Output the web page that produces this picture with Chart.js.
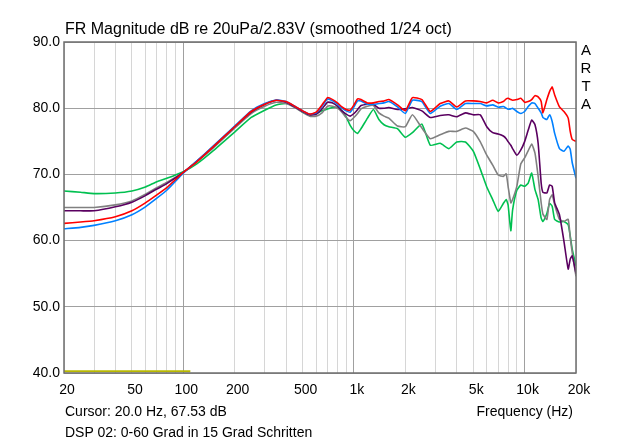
<!DOCTYPE html>
<html>
<head>
<meta charset="utf-8">
<script src="https://cdn.jsdelivr.net/npm/chart.js@4.4.1/dist/chart.umd.min.js"></script>
<style>
  body { margin: 0; background: #fff; }
  #wrap { position: relative; width: 640px; height: 444px; font-family: "Liberation Sans", Arial, sans-serif; color: #000; }
  #wrap canvas { position: absolute; left: 0; top: 0; }
  .lbl { position: absolute; white-space: nowrap; font-size: 14px; line-height: 16px; }
  #title { left: 65px; top: 20px; font-size: 16px; line-height: 18px; }
  #arta { left: 579px; top: 41px; font-size: 15px; line-height: 18px; width: 14px; text-align: center; }
  #cursor { left: 65px; top: 403px; }
  #freq { right: 67px; top: 403px; }
  #dsp { left: 65px; top: 424px; }
</style>
</head>
<body>
<div id="wrap">
  <canvas id="frChart" width="640" height="444"></canvas>
  <div class="lbl" id="title">FR Magnitude dB re 20uPa/2.83V (smoothed 1/24 oct)</div>
  <div class="lbl" id="arta">A<br>R<br>T<br>A</div>
  <div class="lbl" id="cursor">Cursor: 20.0 Hz, 67.53 dB</div>
  <div class="lbl" id="freq">Frequency (Hz)</div>
  <div class="lbl" id="dsp">DSP 02: 0-60 Grad in 15 Grad Schritten</div>
</div>
<script>
// Frequenzpunkte (Hz), gemeinsam für alle Kurven
const freqHz = [20, 25, 30, 40, 50, 60, 70, 80, 100, 120,
    150, 200, 250, 300, 350, 400, 450, 500, 550, 600,
    650, 700, 750, 800, 850, 900, 950, 1000, 1050, 1100,
    1200, 1300, 1400, 1500, 1600, 1800, 2000, 2200, 2500, 2800,
    3200, 3600, 4000, 4500, 5000, 5500, 6000, 6500, 7000, 7500,
    7800, 8000, 8300, 8500, 9000, 9500, 10000, 10500, 11000, 11500,
    12000, 12500, 12800, 13500, 14000, 14500, 15000, 16000, 17000, 18000,
    18500, 19000, 20000];

// Pegel in dB, je Winkel
const deg0 = [62.6, 62.8, 63.0, 63.6, 64.5, 65.7, 66.9, 68.0, 70.3, 71.9,
    74.2, 77.2, 79.5, 80.6, 81.2, 81.0, 80.3, 79.6, 79.1, 79.4,
    80.5, 81.6, 81.3, 80.8, 80.2, 79.8, 79.7, 80.5, 81.4, 81.3,
    80.8, 80.8, 81.0, 81.1, 81.3, 80.5, 79.6, 81.6, 81.3, 79.5,
    80.7, 81.1, 80.2, 81.1, 81.1, 81.0, 80.8, 81.2, 80.8, 81.0,
    81.4, 81.5, 81.3, 81.2, 81.3, 81.5, 80.9, 81.0, 81.3, 81.9,
    81.7, 81.0, 79.3, 81.3, 82.5, 83.2, 82.0, 80.2, 79.5, 78.5,
    76.5, 75.3, 75.0];

const deg15 = [61.8, 62.0, 62.3, 63.0, 63.9, 65.1, 66.4, 67.6, 70.2, 72.0,
    74.3, 77.3, 79.6, 80.7, 81.25, 81.0, 80.3, 79.6, 79.1, 79.3,
    80.3, 81.4, 81.1, 80.6, 80.0, 79.6, 79.4, 80.2, 81.1, 81.1,
    80.6, 80.6, 80.7, 80.8, 81.0, 80.2, 79.2, 81.2, 81.0, 79.2,
    80.3, 80.7, 79.8, 80.7, 80.7, 80.7, 80.35, 80.5, 80.15, 80.25,
    80.0, 79.85, 79.9, 80.0, 79.5, 79.2, 79.5, 80.25, 80.8, 80.7,
    80.0, 79.3, 78.6, 78.3, 79.0, 78.0, 76.2, 73.9, 73.5, 74.3,
    73.8, 71.8, 69.4];

const deg30 = [64.5, 64.5, 64.5, 65.1, 65.8, 66.8, 67.8, 68.6, 70.3, 72.0,
    74.2, 77.2, 79.4, 80.6, 81.2, 80.9, 80.2, 79.5, 79.0, 79.1,
    79.9, 80.9, 80.8, 80.3, 79.6, 79.1, 78.8, 79.2, 79.8, 80.4,
    80.6, 80.6, 80.0, 80.0, 80.1, 79.8, 79.9, 80.1, 79.6, 78.6,
    78.9, 79.0, 78.7, 79.3, 79.0, 79.0, 77.2, 76.3, 76.1, 75.8,
    75.4, 74.95, 74.4, 73.9, 72.9, 73.7, 74.95, 76.7, 78.2, 77.5,
    74.7, 68.7, 67.3, 67.2, 68.4, 68.2, 65.7, 63.9, 59.9, 55.7,
    57.2, 57.7, 55.0];

const deg45 = [65.0, 65.0, 65.0, 65.4, 66.0, 67.0, 68.0, 68.8, 70.3, 71.9,
    74.0, 77.0, 79.2, 80.3, 80.9, 80.7, 80.1, 79.4, 78.8, 78.8,
    79.3, 80.3, 80.3, 80.0, 79.4, 78.6, 78.1, 78.6, 79.2, 79.9,
    80.3, 80.4, 79.3, 78.8, 78.5, 77.3, 77.2, 79.0, 77.0, 75.4,
    76.0, 76.5, 76.5, 77.0, 76.5, 74.9, 72.9, 71.4, 69.9, 69.7,
    70.1, 68.2, 65.7, 66.2, 68.2, 71.6, 72.5, 73.6, 74.6, 73.2,
    69.7, 65.7, 64.0, 63.2, 66.2, 66.9, 65.4, 63.2, 62.9, 63.2,
    60.5, 58.2, 54.6];

const deg60 = [67.5, 67.3, 67.1, 67.2, 67.5, 68.1, 68.9, 69.4, 70.4, 71.6,
    73.6, 76.4, 78.6, 79.7, 80.5, 80.7, 80.2, 79.4, 79.0, 79.2,
    79.6, 79.9, 80.1, 80.1, 79.6, 78.7, 77.4, 76.6, 76.2, 76.9,
    78.5, 79.8, 78.3, 77.5, 77.2, 76.9, 75.6, 76.3, 77.6, 74.4,
    74.7, 73.9, 74.9, 74.9, 73.5, 70.8, 68.1, 66.2, 64.4, 65.6,
    66.2, 65.4, 61.5, 64.6, 67.6, 68.4, 68.2, 68.7, 70.2, 67.7,
    66.2, 63.4, 62.9, 64.1, 65.6, 65.2, 63.2, 62.8, 62.9, 62.4,
    60.7, 58.7, 56.2];

// gelbe Cursor-/Markerlinie unten
const markerHz = [20, 110];
const markerDb = [40.25, 40.25];

// Achsen
const xGridHz = [20, 30, 40, 50, 60, 70, 80, 90, 100, 200, 300, 400, 500, 600, 700, 800, 900,
    1000, 2000, 3000, 4000, 5000, 6000, 7000, 8000, 9000, 10000, 20000];
const xTickHz = [20, 50, 100, 200, 500, 1000, 2000, 5000, 10000, 20000];
const xTickText = ['20', '50', '100', '200', '500', '1k', '2k', '5k', '10k', '20k'];
const xMajorHz = [100, 1000, 10000];
const yMin = 40, yMax = 90, yStep = 10;

function toPoints(values) {
    return freqHz.map((f, i) => ({ x: f, y: values[i] }));
}

const series = [
    { label: '0 Grad', data: deg0, color: '#ff0000' },
    { label: '15 Grad', data: deg15, color: '#0080ff' },
    { label: '30 Grad', data: deg30, color: '#5a0060' },
    { label: '45 Grad', data: deg45, color: '#808080' },
    { label: '60 Grad', data: deg60, color: '#00c050' }
];

const datasets = series.map(s => ({
    label: s.label,
    data: toPoints(s.data),
    borderColor: s.color,
    borderWidth: 1.6,
    pointRadius: 0,
    tension: 0.15,
    fill: false
}));

datasets.push({
    label: 'Marker',
    data: markerHz.map((f, i) => ({ x: f, y: markerDb[i] })),
    borderColor: '#b8b800',
    borderWidth: 2,
    pointRadius: 0,
    fill: false
});

// Rahmen um den Plotbereich
const frame = {
    id: 'frame',
    afterDraw(chart) {
        const a = chart.chartArea;
        const ctx = chart.ctx;
        ctx.save();
        ctx.strokeStyle = '#6e6e6e';
        ctx.lineWidth = 1.5;
        ctx.strokeRect(a.left, a.top, a.right - a.left, a.bottom - a.top);
        ctx.restore();
    }
};

new Chart(document.getElementById('frChart'), {
    type: 'line',
    data: { datasets: datasets },
    plugins: [frame],
    options: {
        responsive: false,
        animation: false,
        layout: { padding: { left: 0, right: 64, top: 42, bottom: 0 } },
        plugins: {
            legend: { display: false },
            tooltip: { enabled: false }
        },
        scales: {
            x: {
                type: 'logarithmic',
                min: 20,
                max: 20000,
                afterBuildTicks: scale => {
                    scale.ticks = xGridHz.map(v => ({ value: v }));
                },
                afterFit: scale => { scale.height = 71; },
                grid: {
                    drawTicks: false,
                    color: c => xMajorHz.includes(c.tick && c.tick.value) ? '#a0a0a0' : '#d6d6d6',
                    lineWidth: 1
                },
                border: { display: false },
                ticks: {
                    autoSkip: false,
                    maxRotation: 0,
                    padding: 9,
                    labelOffset: 3,
                    color: '#000',
                    font: { family: '"Liberation Sans", Arial, sans-serif', size: 14 },
                    callback: v => {
                        const i = xTickHz.indexOf(v);
                        return i >= 0 ? xTickText[i] : '';
                    }
                }
            },
            y: {
                min: yMin,
                max: yMax,
                afterFit: scale => { scale.width = 64; },
                grid: { drawTicks: false, color: '#a0a0a0', lineWidth: 1 },
                border: { display: false },
                ticks: {
                    stepSize: yStep,
                    padding: 4,
                    color: '#000',
                    font: { family: '"Liberation Sans", Arial, sans-serif', size: 14 },
                    callback: v => v.toFixed(1)
                }
            }
        }
    }
});
</script>
</body>
</html>
